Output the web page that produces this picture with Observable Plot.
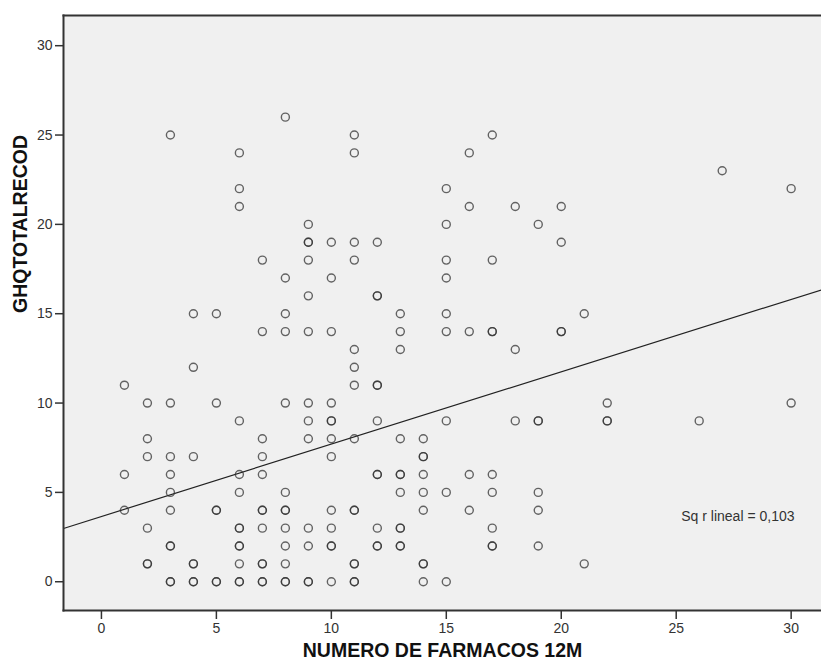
<!DOCTYPE html>
<html>
<head>
<meta charset="utf-8">
<script src="https://cdn.jsdelivr.net/npm/d3@7"></script>
<script src="https://cdn.jsdelivr.net/npm/@observablehq/plot@0.6"></script>
<style>
  html, body { margin: 0; padding: 0; background: #fff; }
  #chart svg { display: block; }
</style>
</head>
<body>
<div id="chart"></div>
<script>
// Data: NUMERO DE FARMACOS 12M (x) vs GHQTOTALRECOD (y)
// Columns of observed y values for each x value (duplicates = overlapping points)
const farmacosValues = [1, 2, 3, 4, 5, 6, 7, 8, 9, 10, 11, 12, 13, 14, 15, 16, 17, 18, 19, 20, 21, 22, 26, 27, 30];
const ghqByFarmacos = [
  [11, 6, 4],
  [10, 8, 7, 3, 1, 1],
  [25, 10, 7, 6, 5, 4, 2, 2, 0, 0],
  [15, 12, 7, 1, 1, 0, 0],
  [15, 10, 4, 4, 0, 0],
  [24, 22, 21, 9, 6, 5, 3, 3, 2, 2, 1, 0, 0],
  [18, 14, 8, 7, 6, 4, 4, 3, 1, 1, 0, 0],
  [26, 17, 15, 14, 10, 5, 4, 4, 3, 2, 1, 0, 0],
  [20, 19, 19, 18, 16, 14, 10, 9, 8, 3, 2, 0, 0],
  [19, 17, 14, 10, 9, 9, 8, 7, 4, 3, 2, 2, 0],
  [25, 24, 19, 18, 13, 12, 11, 8, 4, 4, 1, 1, 0, 0],
  [19, 16, 16, 11, 11, 9, 6, 6, 3, 2, 2],
  [15, 14, 13, 8, 6, 6, 5, 3, 3, 2, 2],
  [8, 7, 7, 6, 5, 4, 1, 1, 0],
  [22, 20, 18, 17, 15, 14, 9, 5, 0],
  [24, 21, 14, 6, 4],
  [25, 18, 14, 14, 6, 5, 3, 2, 2],
  [21, 13, 9],
  [20, 9, 9, 5, 4, 2],
  [21, 19, 14, 14],
  [15, 1],
  [10, 9, 9],
  [9],
  [23],
  [22, 10]
];
const xTicks = [0, 5, 10, 15, 20, 25, 30];
const yTicks = [0, 5, 10, 15, 20, 25, 30];
const xTitle = "NUMERO DE FARMACOS 12M";
const yTitle = "GHQTOTALRECOD";
const fitLabel = "Sq r lineal = 0,103";
// Linear fit as drawn in the reference (intercept, slope)
const fitIntercept = 3.65;
const fitSlope = 0.405;

// Build point table
const points = farmacosValues.flatMap((x, i) => ghqByFarmacos[i].map(y => ({x, y})));

const xDomain = [-1.65, 31.32];
const yDomain = [-1.61, 31.69];
const fitLine = xDomain.map(x => ({x, y: fitIntercept + fitSlope * x}));

const chart = Plot.plot({
  width: 821,
  height: 664,
  marginTop: 15,
  marginLeft: 63,
  marginRight: 0,
  marginBottom: 54,
  style: {fontFamily: "'Liberation Sans', Arial, sans-serif", fontSize: "14px", color: "#333", background: "#fff"},
  x: {domain: xDomain, ticks: xTicks, label: null},
  y: {domain: yDomain, ticks: yTicks, label: null},
  marks: [
    Plot.frame({fill: "#f0f0f0", stroke: null}),
    Plot.axisX({ticks: xTicks, tickSize: 9, tickPadding: 4, stroke: "#333", strokeWidth: 1.5, label: null}),
    Plot.axisY({ticks: yTicks, tickSize: 8, tickPadding: 3, stroke: "#333", strokeWidth: 1.5, label: null}),
    Plot.line(fitLine, {x: "x", y: "y", stroke: "#222", strokeWidth: 1.2, clip: true}),
    Plot.dot(points, {x: "x", y: "y", r: 4, stroke: "#333", strokeWidth: 1.4, strokeOpacity: 0.75, fill: "none"}),
    Plot.text([fitLabel], {frameAnchor: "bottom-right", dx: -27, dy: -94, textAnchor: "end", lineAnchor: "middle", fontSize: 14, fill: "#333"}),
    Plot.frame({anchor: "left", stroke: "#333", strokeWidth: 2}),
    Plot.frame({anchor: "top", stroke: "#333", strokeWidth: 2}),
    Plot.frame({anchor: "bottom", stroke: "#333", strokeWidth: 2}),
    Plot.text([xTitle], {frameAnchor: "bottom", dy: 40, lineAnchor: "middle", fontWeight: "bold", fontSize: 19.5, fill: "#111"}),
    Plot.text([yTitle], {frameAnchor: "left", dx: -43, rotate: -90, lineAnchor: "middle", fontWeight: "bold", fontSize: 19.5, fill: "#111"})
  ]
});
document.getElementById("chart").appendChild(chart);
</script>
</body>
</html>
